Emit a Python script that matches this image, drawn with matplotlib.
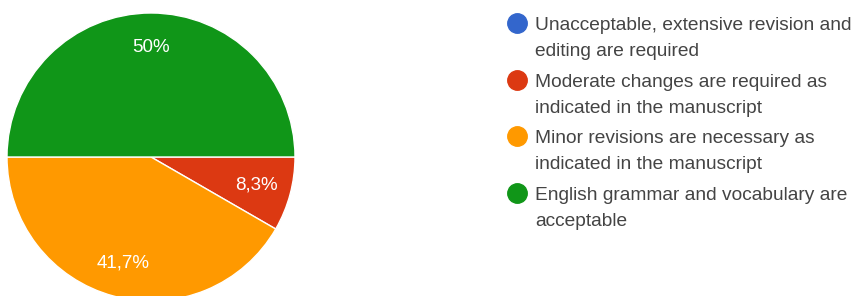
import matplotlib.pyplot as plt
from matplotlib.lines import Line2D

categories = [
    "Unacceptable, extensive revision and\nediting are required",
    "Moderate changes are required as\nindicated in the manuscript",
    "Minor revisions are necessary as\nindicated in the manuscript",
    "English grammar and vocabulary are\nacceptable",
]
counts = [0, 1, 5, 6]
colors = ["#3366CC", "#DC3912", "#FF9900", "#109618"]

W, H = 855, 296


def fmt_pct(p):
    s = f"{p:.1f}".replace(".", ",")
    if s.endswith(",0"):
        s = s[:-2]
    return s + "%"


def main():
    plt.rcParams["font.family"] = ["Liberation Sans", "DejaVu Sans"]
    fig = plt.figure(figsize=(W / 100, H / 100), dpi=100)

    # pie axes in pixel terms: center (151, 157), radius 144
    cx, cy, r = 151, 157, 144
    ax = fig.add_axes([(cx - r) / W, (H - cy - r) / H, 2 * r / W, 2 * r / H])
    vals = [v for v in counts if v > 0]
    cols = [c for v, c in zip(counts, colors) if v > 0]
    ax.pie(
        vals, colors=cols, startangle=0, counterclock=False, radius=1,
        autopct=fmt_pct, pctdistance=0.76,
        wedgeprops=dict(edgecolor="white", linewidth=1),
        textprops=dict(color="white", fontsize=13.5),
    )
    ax.set_xlim(-1, 1)
    ax.set_ylim(-1, 1)
    ax.axis("off")

    # legend, laid out by hand like the Google Forms one
    y0, step, lgap = 30, 56.7, 26
    for i, (lab, c) in enumerate(zip(categories, colors)):
        yb = y0 + i * step
        fig.add_artist(Line2D([517 / W], [1 - (yb - 7) / H], marker="o",
                              markersize=14, color=c, linestyle="none",
                              transform=fig.transFigure))
        for j, line in enumerate(lab.split("\n")):
            fig.text(535 / W, 1 - (yb + j * lgap) / H, line, fontsize=13.8,
                     color="#444444", va="baseline", ha="left")

    fig.savefig("out.png", dpi=100)


if __name__ == "__main__":
    main()
